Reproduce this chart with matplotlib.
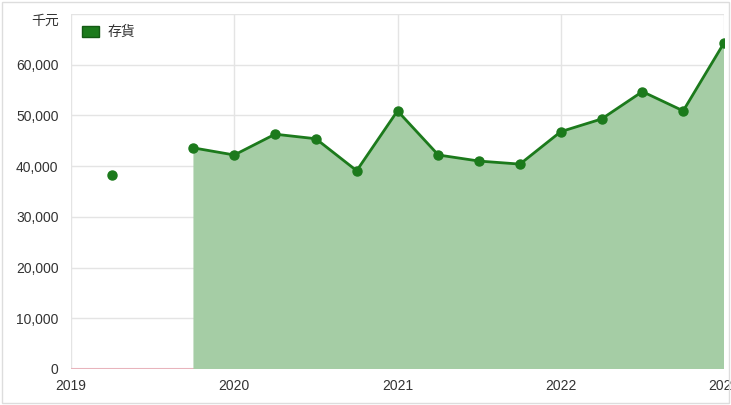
import matplotlib
matplotlib.use("Agg")
import matplotlib.pyplot as plt
import numpy as np
from matplotlib.patches import Patch

plt.rcParams['font.family'] = ['Liberation Sans', 'Noto Sans CJK TC', 'DejaVu Sans']

quarters = [2019.25, 2019.5, 2019.75, 2020.0, 2020.25, 2020.5, 2020.75, 2021.0,
            2021.25, 2021.5, 2021.75, 2022.0, 2022.25, 2022.5, 2022.75, 2023.0]
inventory = [38300, np.nan, 43600, 42200, 46300, 45400, 39100, 50900,
             42200, 41000, 40400, 46800, 49300, 54700, 50900, 64300]
year_ticks = [2019, 2020, 2021, 2022, 2023]
year_labels = ['2019', '2020', '2021', '2022', '2023']
y_ticks = [0, 10000, 20000, 30000, 40000, 50000, 60000]
series_name = '存貨'
unit_label = '千元'

fig = plt.figure(figsize=(7.31, 4.05), dpi=100)
ax = fig.add_axes([71/731, 36/405, (724-71)/731, (369-14)/405])

x = np.array(quarters)
y = np.array(inventory, dtype=float)

ax.axhline(0, color='#e8b4bc', lw=1.5, zorder=1)
ax.fill_between(x, 0, y, where=~np.isnan(y), color='#a5cda5', lw=0, zorder=2, interpolate=False)
ax.plot(x, y, color='#1c7a1c', lw=2, marker='o', ms=6.5, mfc='#1c7a1c', mec='#1c7a1c', zorder=3)

ax.set_xlim(2019, 2023)
ax.set_ylim(0, 70000)
ax.set_xticks(year_ticks)
ax.set_xticklabels(year_labels)
ax.set_yticks(y_ticks + [70000])
ax.set_yticklabels([f'{v:,}' for v in y_ticks] + [unit_label])
ax.grid(True, color='#e4e4e4', lw=1, zorder=0)
ax.set_axisbelow(True)
for s in ax.spines.values():
    s.set_visible(False)
ax.tick_params(length=0, labelsize=10, colors='#333333')
ax.tick_params(axis='y', pad=9)
ax.tick_params(axis='x', pad=7)
for lbl in ax.get_xticklabels():
    lbl.set_clip_on(False)
ax.get_yticklabels()[-1].set_va('top')

leg = ax.legend(handles=[Patch(facecolor='#1c7a1c', edgecolor='#145a14', label=series_name)],
                loc='upper left', frameon=False, fontsize=10, handlelength=1.2, handleheight=0.9,
                handletextpad=0.6, bbox_to_anchor=(0.0, 1.0), borderaxespad=0.4)
for t in leg.get_texts():
    t.set_color('#333333')

fig.patches.append(plt.Rectangle((0.003, 0.005), 0.994, 0.99, transform=fig.transFigure,
                                 fill=False, edgecolor='#dddddd', lw=1))
fig.savefig('out.png', dpi=100)
